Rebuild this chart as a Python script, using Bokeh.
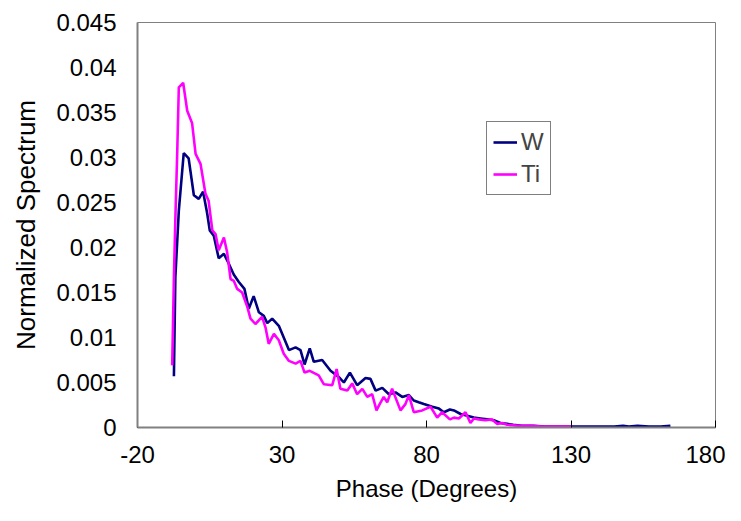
from bokeh.plotting import figure
from bokeh.models import Range1d, FixedTicker, CustomJSTickFormatter, Legend, LegendItem
from bokeh.embed import file_html
from bokeh.resources import INLINE

# W series (phase in degrees, normalized spectrum)
w_phase = [-7.4, -6.9, -5.7, -4.0, -2.3, -0.5, 1.2, 2.7, 4.1, 5.0, 6.4, 8.1, 9.9, 11.6,
           13.3, 15.0, 17.0, 18.5, 20.2, 22.0, 23.7, 24.9, 26.6, 28.9, 30.6, 32.4, 34.7,
           36.4, 37.8, 39.6, 41.0, 43.9, 46.8, 49.7, 51.4, 53.5, 56.0, 58.9, 60.6, 62.4,
           64.7, 67.0, 69.3, 71.6, 73.9, 75.6, 77.3, 79.1, 82.0, 84.3, 86.0, 88.1, 89.5,
           91.8, 94.1, 96.4, 98.7, 101.0, 103.3, 105.6, 107.9, 110.0, 113.0, 117.0, 121.0,
           125.0, 130.0, 135.0, 140.0, 145.0, 148.0, 150.0, 153.0, 157.0, 161.0, 164.4]
w_value = [0.0057, 0.0167, 0.0241, 0.0305, 0.0299, 0.0258, 0.0254, 0.0262, 0.0238, 0.0219,
           0.0213, 0.0188, 0.0193, 0.0182, 0.0170, 0.0162, 0.0154, 0.0132, 0.0146, 0.0128,
           0.0124, 0.0116, 0.0121, 0.0113, 0.0100, 0.0086, 0.0089, 0.0086, 0.0070, 0.0088,
           0.0073, 0.0075, 0.0063, 0.0056, 0.0050, 0.0061, 0.0047, 0.0055, 0.0054, 0.0041,
           0.0044, 0.0037, 0.0039, 0.0034, 0.0036, 0.0030, 0.0028, 0.0026, 0.0023, 0.0021,
           0.0017, 0.0020, 0.0019, 0.0015, 0.0013, 0.0011, 0.0010, 0.0009, 0.0008, 0.0005,
           0.0004, 0.0003, 0.0002, 0.0002, 0.0001, 0.0001, 0.0001, 0.0001, 0.0001, 0.0001,
           0.0002, 0.0001, 0.0002, 0.0001, 0.0001, 0.0002]

# Ti series
ti_phase = [-8.0, -7.4, -6.85, -6.3, -5.7, -4.2, -2.8, -1.1, 0.1, 1.8, 3.5, 4.6, 5.9, 7.0,
            8.1, 9.9, 11.0, 12.2, 13.3, 14.5, 16.2, 18.0, 19.1, 20.8, 23.1, 24.3, 25.4,
            27.2, 28.9, 30.6, 32.4, 34.7, 36.4, 37.8, 39.6, 42.7, 44.5, 47.4, 48.9, 50.2,
            52.6, 54.3, 56.0, 57.8, 59.5, 61.2, 62.7, 63.8, 65.2, 66.4, 68.1, 71.0, 72.7,
            73.9, 75.6, 78.5, 81.4, 83.7, 85.4, 88.1, 89.5, 91.2, 93.5, 95.2, 96.4, 98.1,
            100.4, 102.7, 104.5, 106.2, 107.9, 112.0, 116.0, 120.0, 125.0, 130.0]
ti_value = [0.0069, 0.0167, 0.0238, 0.0300, 0.0378, 0.0383, 0.0352, 0.0338, 0.0304, 0.0293,
            0.0260, 0.0252, 0.0219, 0.0215, 0.0197, 0.0211, 0.0195, 0.0165, 0.0163, 0.0154,
            0.0150, 0.0134, 0.0121, 0.0115, 0.0123, 0.0111, 0.0093, 0.0104, 0.0097, 0.0082,
            0.0074, 0.0071, 0.0074, 0.0061, 0.0063, 0.0058, 0.0048, 0.0047, 0.0065, 0.0043,
            0.0041, 0.0049, 0.0037, 0.0043, 0.0034, 0.0037, 0.0019, 0.0026, 0.0034, 0.0028,
            0.0043, 0.0019, 0.0026, 0.0036, 0.0017, 0.0019, 0.0023, 0.0011, 0.0017, 0.0009,
            0.0011, 0.0010, 0.0017, 0.0005, 0.0010, 0.0009, 0.0008, 0.0009, 0.0004, 0.0005,
            0.0003, 0.0002, 0.0002, 0.0001, 0.0001, 0.0001]

x_ticks = [-20, 30, 80, 130, 180]
y_ticks = [0, 0.005, 0.01, 0.015, 0.02, 0.025, 0.03, 0.035, 0.04, 0.045]

FONT = "Liberation Sans"

p = figure(width=725, height=505, output_backend="svg", toolbar_location=None,
           x_range=Range1d(-20, 180), y_range=Range1d(0, 0.045),
           min_border_left=137, min_border_right=10, min_border_top=22, min_border_bottom=78)
p.outline_line_color = "#808080"
p.outline_line_width = 1
p.xgrid.visible = False
p.ygrid.visible = False
p.background_fill_color = "white"
p.border_fill_color = "white"

lw = p.line(w_phase, w_value, line_color="#000080", line_width=2.6)
lt = p.line(ti_phase, ti_value, line_color="#FF00FF", line_width=2.6)

p.xaxis.ticker = FixedTicker(ticks=x_ticks)
p.xaxis.formatter = CustomJSTickFormatter(code="return String(Math.round(tick));")
p.yaxis.ticker = FixedTicker(ticks=y_ticks)
p.yaxis.formatter = CustomJSTickFormatter(code="""
    var s = tick.toFixed(3);
    s = s.replace(/0+$/, '').replace(/\\.$/, '');
    return s;
""")

for ax in (p.xaxis[0], p.yaxis[0]):
    ax.axis_line_color = "#808080"
    ax.axis_line_width = 2
    ax.major_tick_line_color = "black"
    ax.major_tick_in = 7
    ax.major_tick_out = 0
    ax.minor_tick_line_color = None
    ax.major_label_text_font = FONT
    ax.major_label_text_font_size = "24px"
    ax.major_label_text_color = "black"
    ax.axis_label_text_font = FONT
    ax.axis_label_text_font_size = "24px"
    ax.axis_label_text_font_style = "normal"
    ax.axis_label_text_color = "black"

p.yaxis.major_tick_line_color = None
p.yaxis.axis_label_text_font_size = "26px"
p.xaxis.major_label_standoff = 18
p.yaxis.major_label_standoff = 21
p.xaxis.axis_label = "Phase (Degrees)"
p.yaxis.axis_label = "Normalized Spectrum"
p.xaxis.axis_label_standoff = 9
p.yaxis.axis_label_standoff = 12

legend = Legend(items=[LegendItem(label="W", renderers=[lw]),
                       LegendItem(label="Ti", renderers=[lt])],
                location=(349, 232))
legend.border_line_color = "black"
legend.border_line_width = 1
legend.background_fill_color = "white"
legend.label_text_font = FONT
legend.label_text_font_size = "24px"
legend.glyph_width = 24
legend.glyph_height = 24
legend.label_height = 24
legend.label_standoff = 4
legend.padding = 6
legend.spacing = 4
legend.margin = 0
p.add_layout(legend, "center")

open("out.html", "w").write(file_html(p, INLINE))
